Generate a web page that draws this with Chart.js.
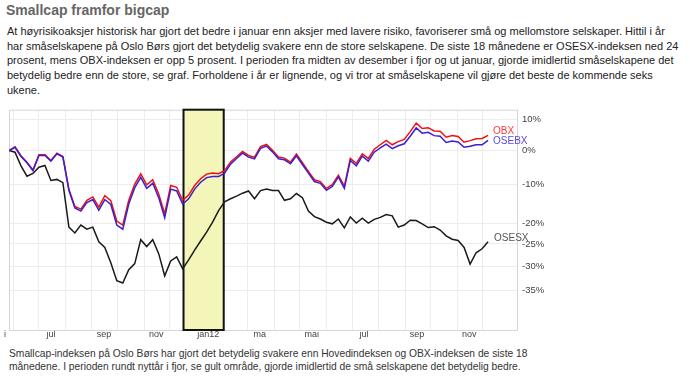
<!DOCTYPE html>
<html>
<head>
<meta charset="utf-8">
<script src="https://cdn.jsdelivr.net/npm/chart.js@4"></script>
<style>
  body { margin: 0; background: #fff; font-family: "Liberation Sans", Arial, sans-serif; }
  #title { position: absolute; left: 6px; top: 2px; font-size: 14px; font-weight: bold; color: #666; white-space: nowrap; }
  #intro { position: absolute; left: 7px; top: 24px; font-size: 11px; line-height: 14.7px; color: #222; white-space: nowrap; }
  #wrap { position: absolute; left: 4px; top: 100px; width: 556px; height: 245px; }
  #caption { position: absolute; left: 9px; top: 347px; font-size: 10.25px; line-height: 13px; color: #333; white-space: nowrap; }
</style>
</head>
<body>
<div id="title">Smallcap framfor bigcap</div>
<div id="intro">At høyrisikoaksjer historisk har gjort det bedre i januar enn aksjer med lavere risiko, favoriserer små og mellomstore selskaper. Hittil i år<br>har småselskapene på Oslo Børs gjort det betydelig svakere enn de store selskapene. De siste 18 månedene er OSESX-indeksen ned 24<br>prosent, mens OBX-indeksen er opp 5 prosent. I perioden fra midten av desember i fjor og ut januar, gjorde imidlertid småselskapene det<br>betydelig bedre enn de store, se graf. Forholdene i år er lignende, og vi tror at småselskapene vil gjøre det beste de kommende seks<br>ukene.</div>
<div id="wrap"><canvas id="chart" width="556" height="245"></canvas></div>
<div id="caption">Smallcap-indeksen på Oslo Børs har gjort det betydelig svakere enn Hovedindeksen og OBX-indeksen de siste 18<br>månedene. I perioden rundt nyttår i fjor, se gult område, gjorde imidlertid de små selskapene det betydelig bedre.</div>
<script>
// weekly readings, first one 27 May 2011, change in percent since start
const firstDate = '2011-05-27';
const stepDays = 7;

const osebx = [0, 1.0, -1.8, -3.7, -6.0, -1.5, -1.5, -3.2, -1.0, -2.0,
  -11.5, -16.2, -17.0, -14.8, -14.0, -16.8, -14.0, -15.3, -20.5, -21.5,
  -15.2, -10.8, -7.9, -11.0, -9.6, -13.5, -18.7, -11.2, -11.7, -15.2,
  -13.8, -11.2, -9.3, -8.0, -7.7, -7.7, -6.7, -4.1, -2.4, -0.8,
  -2.0, -2.5, 0.7, 1.4, -0.4, -2.5, -2.8, -4.0, -1.6, -4.2,
  -6.7, -9.1, -9.6, -11.5, -10.5, -7.8, -11.0, -3.0, -4.6, -1.7,
  -3.2, -0.5, 0.8, 2.0, 0.6, 1.5, 2.1, 4.5, 7.2, 5.5,
  5.8, 4.7, 4.5, 2.5, 3.0, 2.7, 1.0, 1.3, 1.8, 1.8, 3.2];

const obx = [0, 1.2, -1.6, -3.5, -5.8, -1.3, -1.3, -3.0, -0.8, -1.8,
  -11.2, -15.8, -16.5, -14.2, -13.3, -16.0, -13.0, -14.3, -19.5, -20.5,
  -14.2, -9.8, -6.9, -10.0, -8.6, -12.5, -17.7, -10.2, -10.7, -14.2,
  -12.8, -10.2, -8.3, -7.0, -6.7, -6.9, -6.0, -3.5, -1.9, -0.3,
  -1.5, -2.0, 1.2, 1.9, 0.1, -2.0, -2.3, -3.5, -1.1, -3.7,
  -6.2, -8.6, -9.1, -11.0, -10.0, -7.3, -10.4, -2.4, -3.9, -1.0,
  -2.4, 0.4, 1.8, 3.2, 1.8, 2.8, 3.5, 6.0, 8.8, 7.0,
  7.3, 6.2, 6.1, 4.2, 4.7, 4.4, 2.6, 3.1, 3.7, 3.8, 4.8];

const osesx = [0, -0.5, -4.6, -7.6, -6.8, -5.0, -4.5, -8.8, -8.5, -9.4,
  -21.0, -22.4, -20.5, -21.5, -21.0, -24.5, -25.8, -29.2, -33.0, -33.5,
  -30.7, -29.4, -24.0, -25.6, -24.0, -27.2, -32.0, -28.8, -27.9, -30.5,
  -28.6, -26.4, -24.3, -22.2, -19.8, -16.9, -14.6, -13.8, -13.1, -12.3,
  -11.7, -13.8, -11.6, -11.2, -11.6, -11.6, -14.2, -13.8, -12.4, -13.5,
  -17.0, -18.4, -19.0, -19.8, -20.2, -19.0, -21.2, -18.5, -20.0, -18.8,
  -20.0, -19.1, -18.6, -17.9, -18.2, -21.0, -20.5, -19.3, -19.4, -20.2,
  -21.1, -20.9, -21.7, -23.1, -23.9, -24.2, -25.8, -29.5, -27.0, -26.1, -24.5];

const yTicks = [10, 0, -10, -20, -25, -30, -35];
const tickLabels = ['mai', 'jul', 'sep', 'nov', 'jan12', 'ma', 'mai', 'jul', 'sep', 'nov'];
const tickMonths = ['2011-05', '2011-07', '2011-09', '2011-11', '2012-01', '2012-03', '2012-05', '2012-07', '2012-09', '2012-11'];
const highlight = ['2011-12-17', '2012-02-02'];

// x axis runs in days from 1 June 2011
const day0 = Date.UTC(2011, 5, 1);
function dayOf(s) {
  const p = s.split('-').map(Number);
  return (Date.UTC(p[0], p[1] - 1, p[2] || 1) - day0) / 86400000;
}
const start = dayOf(firstDate);
const toPoints = arr => arr.map((v, i) => ({ x: start + i * stepDays, y: 100 + v }));

const monthLines = [];
for (let m = 5; m <= 23; m++) monthLines.push((Date.UTC(2011, m, 1) - day0) / 86400000);
const labelDays = tickMonths.map(s => dayOf(s + '-15'));

Chart.defaults.font.family = '"Liberation Sans", Arial, sans-serif';

const extras = {
  id: 'extras',
  beforeDatasetsDraw(chart) {
    const { ctx, chartArea: a, scales: { x } } = chart;
    const x0 = x.getPixelForValue(dayOf(highlight[0]));
    const x1 = x.getPixelForValue(dayOf(highlight[1]));
    ctx.save();
    ctx.strokeStyle = '#d6d6d6';
    ctx.lineWidth = 1;
    ctx.strokeRect(a.left + 0.5, a.top + 0.5, a.right - a.left - 1, a.bottom - a.top);
    ctx.fillStyle = '#f3f5b9';
    ctx.fillRect(x0, a.top, x1 - x0, a.bottom - a.top);
    ctx.strokeStyle = '#111';
    ctx.lineWidth = 2;
    ctx.strokeRect(x0, a.top, x1 - x0, a.bottom - a.top);
    ctx.restore();
  },
  afterDatasetsDraw(chart) {
    const { ctx } = chart;
    ctx.save();
    ctx.font = '10px "Liberation Sans", Arial, sans-serif';
    ctx.textBaseline = 'middle';
    chart.data.datasets.forEach((ds, i) => {
      const pts = chart.getDatasetMeta(i).data;
      const p = pts[pts.length - 1];
      ctx.fillStyle = ds.tagColor;
      ctx.fillText(ds.label, p.x + ds.tagDx, p.y + ds.tagDy);
    });
    ctx.restore();
  }
};

new Chart(document.getElementById('chart'), {
  type: 'line',
  data: {
    datasets: [
      { label: 'OSEBX', data: toPoints(osebx), borderColor: '#3a1fd0', borderWidth: 1.5, tagColor: '#5a48dc', tagDx: 5, tagDy: 1 },
      { label: 'OBX', data: toPoints(obx), borderColor: '#f01010', borderWidth: 1.5, tagColor: '#ff3b3b', tagDx: 5, tagDy: -4 },
      { label: 'OSESX', data: toPoints(osesx), borderColor: '#1a1a1a', borderWidth: 1.5, tagColor: '#555', tagDx: 6, tagDy: -4 }
    ]
  },
  options: {
    responsive: false,
    animation: false,
    devicePixelRatio: 1,
    layout: { padding: { left: 5, top: 7, right: 0, bottom: 0 } },
    elements: { point: { radius: 0 }, line: { tension: 0 } },
    plugins: { legend: { display: false }, tooltip: { enabled: false } },
    scales: {
      x: {
        type: 'linear', min: -5, max: 590,
        afterBuildTicks: s => { s.ticks = monthLines.map(v => ({ value: v })); },
        afterFit: s => { s.height = 0; s.paddingLeft = 0; s.paddingRight = 0; },
        ticks: { display: false },
        grid: { color: '#ececec', drawTicks: false },
        border: { display: false }
      },
      x2: {
        type: 'linear', position: 'bottom', min: -5, max: 590,
        afterBuildTicks: s => { s.ticks = labelDays.map(v => ({ value: v })); },
        afterFit: s => { s.height = 15; s.paddingLeft = 0; s.paddingRight = 0; },
        ticks: { autoSkip: false, maxRotation: 0, padding: -1, color: '#444', font: { size: 9 },
          callback: (v, i) => tickLabels[i] },
        grid: { display: false, drawTicks: false },
        border: { display: false }
      },
      y: {
        type: 'logarithmic', position: 'right', min: 57.55, max: 113.4, bounds: 'data',
        afterBuildTicks: s => { s.ticks = yTicks.map(v => ({ value: 100 + v })); },
        afterFit: s => { s.width = 42; },
        ticks: { padding: 4, color: '#444', font: { size: 9.5 },
          callback: v => Math.round(v - 100) + '%' },
        grid: { color: '#ececec', drawTicks: false },
        border: { display: false }
      }
    }
  },
  plugins: [extras]
});
</script>
</body>
</html>
